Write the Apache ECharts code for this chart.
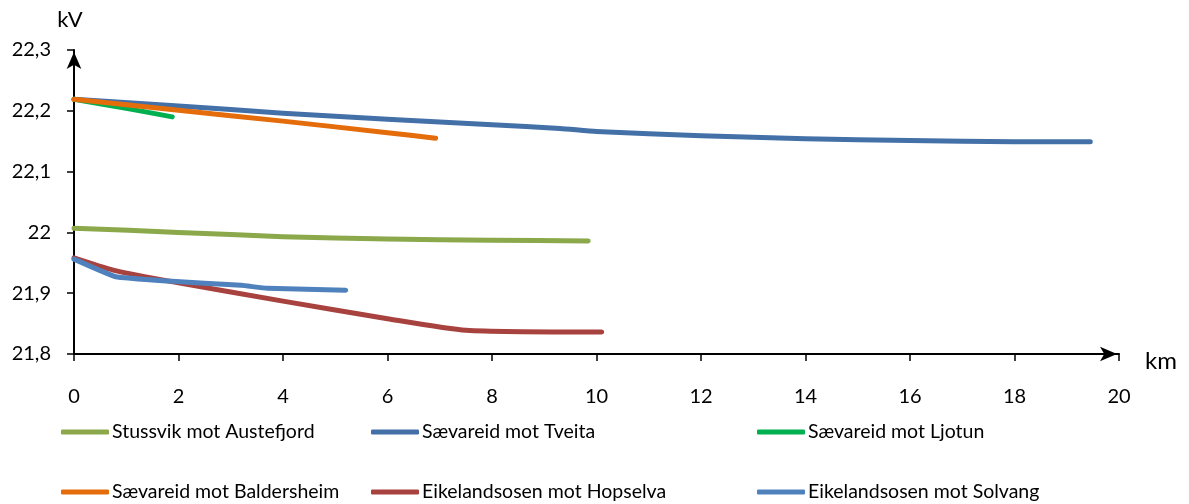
<!DOCTYPE html>
<html>
<head>
<meta charset="utf-8">
<script src="https://cdn.jsdelivr.net/npm/echarts@6/dist/echarts.min.js"></script>
<style>
  html, body { margin: 0; padding: 0; background: #fff; }
  #chart { width: 1189px; height: 504px; }
</style>
</head>
<body>
<div id="chart"></div>
<script>
// Spenningsprofil langs utgåande linjer (avstand i km, spenning i kV)
const seriesNames = [
  'Stussvik mot Austefjord',
  'Sævareid mot Tveita',
  'Sævareid mot Ljotun',
  'Sævareid mot Baldersheim',
  'Eikelandsosen mot Hopselva',
  'Eikelandsosen mot Solvang'
];

const stussvikKm = [0, 2, 4, 6, 8, 9.84];
const stussvikKv = [22.007, 22.000, 21.993, 21.989, 21.987, 21.986];

const tveitaKm = [0, 2, 4, 6, 8, 9.3, 10, 12, 14, 16, 18, 19.45];
const tveitaKv = [22.219, 22.208, 22.196, 22.186, 22.177, 22.171, 22.166, 22.159, 22.154, 22.151, 22.149, 22.149];

const ljotunKm = [0, 1, 1.88];
const ljotunKv = [22.219, 22.204, 22.190];

const baldersheimKm = [0, 2, 4, 6, 6.92];
const baldersheimKv = [22.219, 22.201, 22.183, 22.164, 22.155];

const hopselvaKm = [0, 0.75, 2, 4, 6, 7.5, 10.1];
const hopselvaKv = [21.958, 21.938, 21.917, 21.887, 21.858, 21.839, 21.836];

const solvangKm = [0, 0.8, 1.8, 3.2, 3.7, 5.2];
const solvangKv = [21.956, 21.927, 21.920, 21.913, 21.908, 21.905];

const seriesColors = ['#8BA84B', '#4470A8', '#00B050', '#E46C0A', '#A8423F', '#4F81BD'];

const kmTicks = [0, 2, 4, 6, 8, 10, 12, 14, 16, 18, 20];
const kvTicks = [21.8, 21.9, 22.0, 22.1, 22.2, 22.3];

const pairs = (xs, ys) => xs.map((x, i) => [x, ys[i]]);
const seriesData = [
  pairs(stussvikKm, stussvikKv),
  pairs(tveitaKm, tveitaKv),
  pairs(ljotunKm, ljotunKv),
  pairs(baldersheimKm, baldersheimKv),
  pairs(hopselvaKm, hopselvaKv),
  pairs(solvangKm, solvangKv)
];

const FONT = 'Lato';
const fmtKv = v => String(+(+v).toFixed(1)).replace('.', ',');

const chart = echarts.init(document.getElementById('chart'), null, { renderer: 'canvas' });

// Legend laid out as a 3 x 2 grid: one legend component per entry
const legendCols = [61, 371, 757];
const legendRows = [420, 480];
const legendItem = (name, i) => ({
  orient: 'horizontal',
  left: legendCols[i % 3],
  top: legendRows[Math.floor(i / 3)],
  padding: 0,
  itemWidth: 48,
  itemHeight: 5,
  icon: 'roundRect',
  data: [name],
  selectedMode: false,
  textStyle: { fontFamily: FONT, fontSize: 19.5, lineHeight: 24, color: '#000', padding: [0, 0, 0, -2] }
});

const arrowLine = {
  show: true,
  symbol: ['none', 'arrow'],
  symbolSize: [11, 17],
  symbolOffset: [0, -2],
  lineStyle: { color: '#000', width: 2 }
};

chart.setOption({
  animation: false,
  backgroundColor: '#fff',
  grid: { left: 74, right: 70, top: 50, bottom: 150, containLabel: false },
  xAxis: {
    type: 'value',
    min: kmTicks[0],
    max: kmTicks[kmTicks.length - 1],
    interval: 2,
    name: 'km',
    nameLocation: 'end',
    nameGap: 26,
    nameTextStyle: { fontFamily: FONT, fontSize: 24, lineHeight: 24, color: '#000', align: 'left', verticalAlign: 'top', padding: [-5, 0, 0, 0] },
    axisLine: arrowLine,
    axisTick: { show: true, inside: false, length: 7, lineStyle: { color: '#000', width: 1.5 } },
    axisLabel: { fontFamily: FONT, fontSize: 20, color: '#000', margin: 33 },
    splitLine: { show: false }
  },
  yAxis: {
    type: 'value',
    min: kvTicks[0],
    max: kvTicks[kvTicks.length - 1],
    interval: 0.1,
    name: 'kV',
    nameLocation: 'end',
    nameGap: 19,
    nameTextStyle: { fontFamily: FONT, fontSize: 22, color: '#000', align: 'center', padding: [0, 8, 0, 0] },
    axisLine: arrowLine,
    axisTick: { show: true, inside: false, length: 7, lineStyle: { color: '#000', width: 1.5 } },
    axisLabel: { fontFamily: FONT, fontSize: 20, color: '#000', margin: 23, formatter: fmtKv },
    splitLine: { show: false }
  },
  legend: seriesNames.map(legendItem),
  series: seriesNames.map((name, i) => ({
    name: name,
    type: 'line',
    data: seriesData[i],
    smooth: i === 5 ? 0.1 : 0.2,
    showSymbol: false,
    symbol: 'none',
    color: seriesColors[i],
    lineStyle: { width: 5, color: seriesColors[i], cap: 'round', join: 'round' }
  }))
});
</script>
</body>
</html>
